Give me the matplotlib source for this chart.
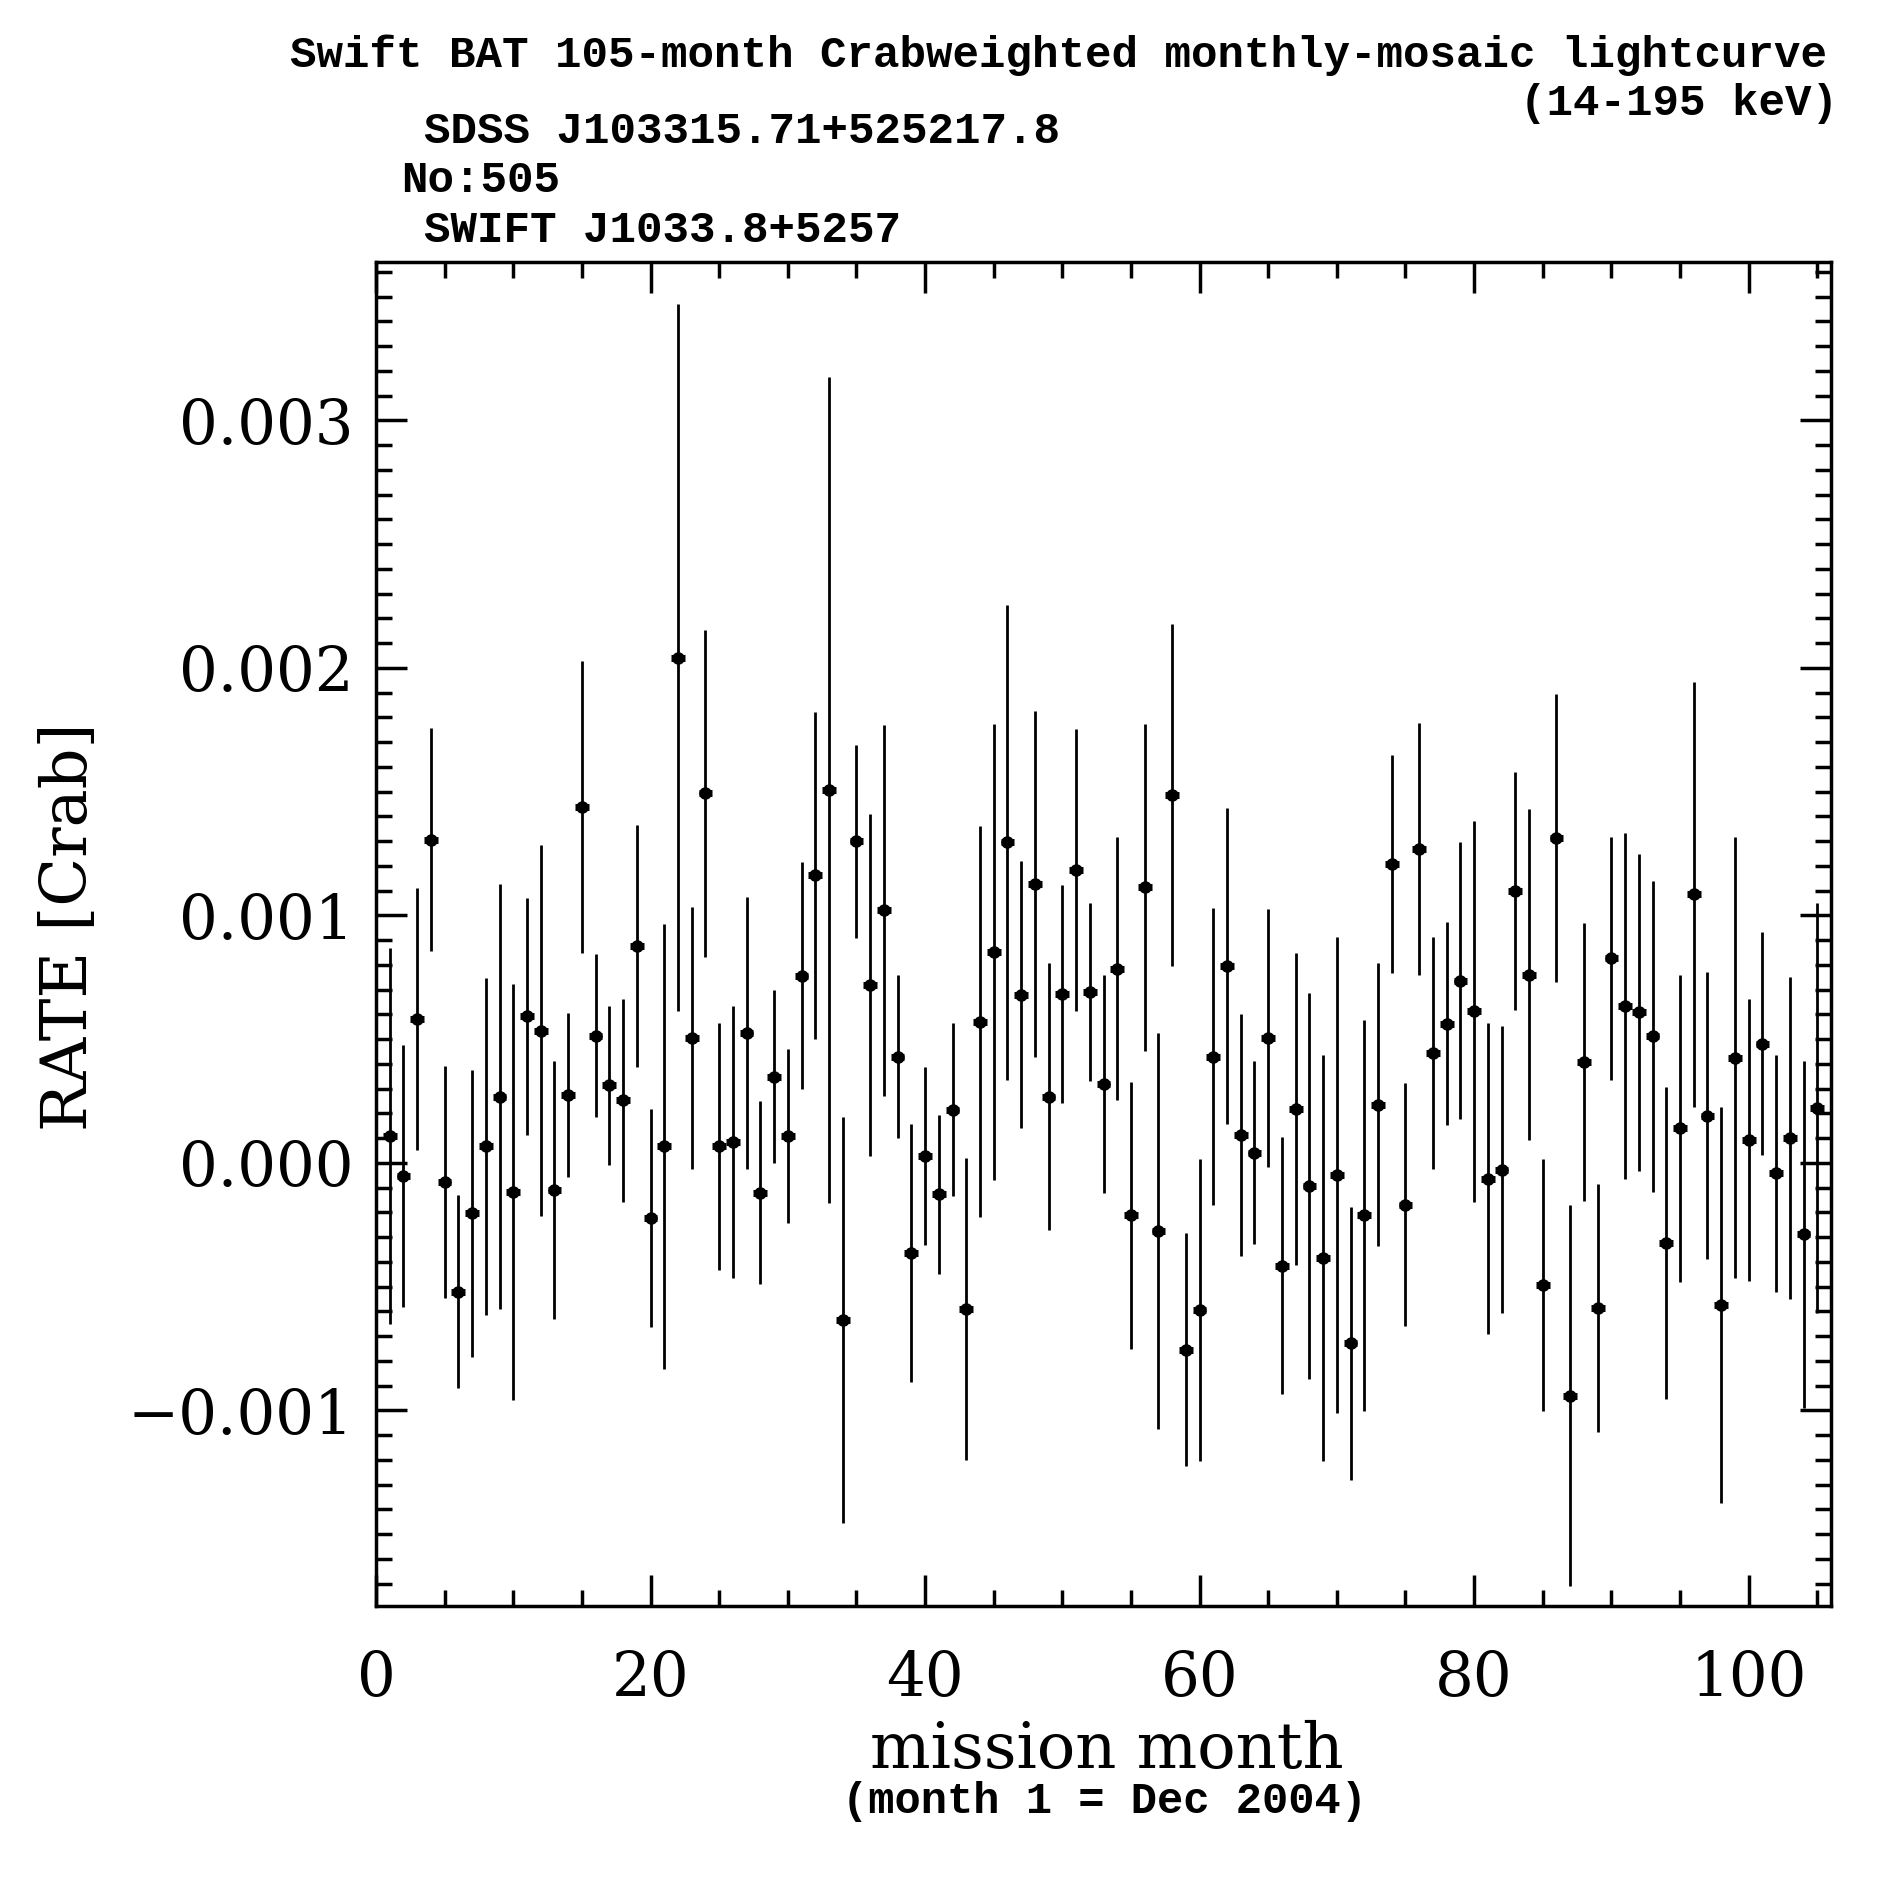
#!/usr/bin/env python3
"""
Swift BAT 105-month monthly lightcurve for SWIFT J1033.8+5257
"""
import numpy as np
import matplotlib
matplotlib.use("Agg")
import matplotlib.pyplot as plt
from matplotlib.ticker import MultipleLocator, FuncFormatter

# mission months 1..105
months = np.arange(1, 106)

rate = [
    0.000109, -0.000053, 0.000581, 0.001306, -0.000077, -0.000521, -0.000204, 0.000067, 0.000268, -0.000116,
    0.000592, 0.000535, -0.000109, 0.000275, 0.001437, 0.000514, 0.000313, 0.000254, 0.000877, -0.000222,
    0.000067, 0.002042, 0.000504, 0.001493, 0.000067, 0.000085, 0.000525, -0.000120, 0.000349, 0.000109,
    0.000757, 0.001162, 0.001507, -0.000634, 0.001299, 0.000718, 0.001021, 0.000430, -0.000363, 0.000028,
    -0.000127, 0.000215, -0.000592, 0.000570, 0.000852, 0.001296, 0.000680, 0.001127, 0.000268, 0.000683,
    0.001183, 0.000690, 0.000320, 0.000785, -0.000211, 0.001113, -0.000275, 0.001486, -0.000754, -0.000595,
    0.000430, 0.000796, 0.000113, 0.000042, 0.000504, -0.000415, 0.000218, -0.000092, -0.000384, -0.000049,
    -0.000729, -0.000211, 0.000236, 0.001208, -0.000169, 0.001268, 0.000444, 0.000563, 0.000736, 0.000613,
    -0.000063, -0.000028, 0.001099, 0.000761, -0.000493, 0.001313, -0.000940, 0.000408, -0.000585, 0.000827,
    0.000634, 0.000609, 0.000511, -0.000324, 0.000141, 0.001085, 0.000190, -0.000574, 0.000426, 0.000092,
    0.000482, -0.000042, 0.000102, -0.000289, 0.000222,
]

rate_err = [
    0.00076, 0.00053, 0.00053, 0.00045, 0.00047, 0.00039, 0.00058, 0.00068, 0.00086, 0.00084,
    0.00048, 0.00075, 0.00052, 0.00033, 0.00059, 0.00033, 0.00032, 0.00041, 0.00049, 0.00044,
    0.00090, 0.00143, 0.00053, 0.00066, 0.00050, 0.00055, 0.00055, 0.00037, 0.00035, 0.00035,
    0.00046, 0.00066, 0.00167, 0.00082, 0.00039, 0.00069, 0.00075, 0.00033, 0.00052, 0.00036,
    0.00032, 0.00035, 0.00061, 0.00079, 0.00092, 0.00096, 0.00054, 0.00070, 0.00054, 0.00044,
    0.00057, 0.00036, 0.00044, 0.00053, 0.00054, 0.00066, 0.00080, 0.00069, 0.00047, 0.00061,
    0.00060, 0.00064, 0.00049, 0.00037, 0.00052, 0.00052, 0.00063, 0.00078, 0.00082, 0.00096,
    0.00055, 0.00079, 0.00057, 0.00044, 0.00049, 0.00051, 0.00047, 0.00041, 0.00056, 0.00077,
    0.00063, 0.00058, 0.00048, 0.00067, 0.00051, 0.00058, 0.00077, 0.00056, 0.00050, 0.00049,
    0.00070, 0.00064, 0.00063, 0.00063, 0.00062, 0.00086, 0.00058, 0.00080, 0.00089, 0.00057,
    0.00045, 0.00048, 0.00065, 0.00070, 0.00083,
]

title_line1 = "Swift BAT 105-month Crabweighted monthly-mosaic lightcurve"
title_line2 = "(14-195 keV)"
source_name = "SDSS J103315.71+525217.8"
source_no = "No:505"
swift_name = "SWIFT J1033.8+5257"

W = H = 1887
mono = ["Liberation Mono", "DejaVu Sans Mono"]
serif = ["DejaVu Serif"]

fig = plt.figure(figsize=(W / 100, H / 100), dpi=100)
ax = fig.add_axes([376 / W, 1 - 1606 / H, (1831 - 376) / W, (1606 - 262) / H])

# vertical error bars
ax.errorbar(months, rate, yerr=rate_err, fmt="none", ecolor="black", elinewidth=2.0, capsize=0)
# short horizontal bar + dot for each month
ax.errorbar(months, rate, xerr=0.5, fmt="o", color="black", ms=8, elinewidth=5, capsize=0)

ax.set_xlim(0, 106)
ax.set_ylim(-0.00179, 0.00364)

ax.xaxis.set_major_locator(MultipleLocator(20))
ax.xaxis.set_minor_locator(MultipleLocator(5))
ax.yaxis.set_major_locator(MultipleLocator(0.001))
ax.yaxis.set_minor_locator(MultipleLocator(0.0001))


def fmt_rate(v, pos):
    if abs(v) < 1e-12:
        v = 0.0
    return f"{v:.3f}".replace("-", "\u2212")


ax.yaxis.set_major_formatter(FuncFormatter(fmt_rate))

ax.tick_params(which="both", direction="in", top=True, right=True, width=2.5, color="black")
ax.tick_params(which="major", length=22)
ax.tick_params(which="minor", length=11.5)
ax.tick_params(axis="x", which="major", pad=30, labelsize=44)
ax.tick_params(axis="y", which="major", pad=16, labelsize=44)
for lab in ax.get_xticklabels() + ax.get_yticklabels():
    lab.set_family(serif)

for sp in ax.spines.values():
    sp.set_linewidth(2.5)

# axis labels
fig.text(1107 / W, 1 - 1768 / H, "mission month", ha="center", va="baseline",
         fontsize=46, family=serif)
fig.text(1105 / W, 1 - 1813 / H, "(month 1 = Dec 2004)", ha="center", va="baseline",
         fontsize=31.5, family=mono, weight="bold")
fig.text(69 / W, 1 - 927 / H, "RATE [Crab]", ha="center", va="center", rotation=90,
         fontsize=46, family=serif)

# titles
fig.text(1827 / W, 1 - 67 / H, title_line1, ha="right", va="baseline",
         fontsize=31.8, family=mono, weight="bold")
fig.text(1838 / W, 1 - 115 / H, title_line2, ha="right", va="baseline",
         fontsize=31.8, family=mono, weight="bold")
fig.text(424 / W, 1 - 143 / H, source_name, ha="left", va="baseline",
         fontsize=31.8, family=mono, weight="bold")
fig.text(401 / W, 1 - 192 / H, source_no, ha="left", va="baseline",
         fontsize=31.8, family=mono, weight="bold")
fig.text(424 / W, 1 - 242 / H, swift_name, ha="left", va="baseline",
         fontsize=31.8, family=mono, weight="bold")

fig.savefig("out.png", dpi=100)
print("saved out.png")
